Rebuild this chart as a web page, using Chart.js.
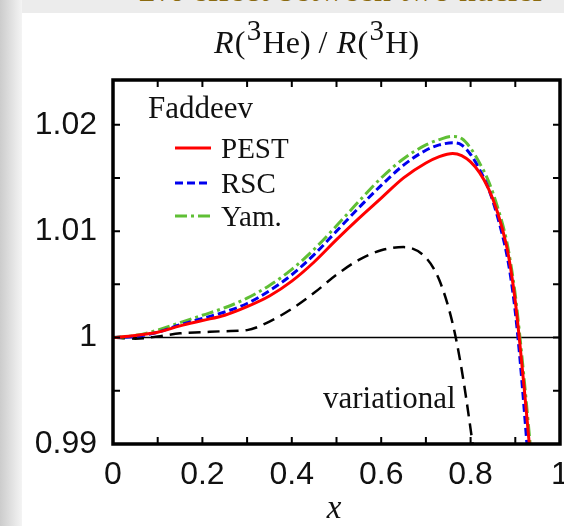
<!DOCTYPE html>
<html>
<head>
<meta charset="utf-8">
<script src="https://cdn.jsdelivr.net/npm/chart.js@4.4.1/dist/chart.umd.min.js"></script>
<style>
  html, body { margin: 0; padding: 0; }
  body { width: 564px; height: 526px; position: relative; overflow: hidden; background: #ececec; }
  #shade { position: absolute; left: 0; top: 0; width: 22px; height: 526px; background: linear-gradient(to right, #cccccc, #f4f4f4); }
  #panel { position: absolute; left: 22px; top: 13px; right: 0; bottom: 0; background: #fff; }
  #slideTitle { position: absolute; right: 22px; top: -27px; font: 34px "Liberation Serif"; line-height: 34px; color: #8a6a10; white-space: nowrap; }
  #wrap { position: absolute; left: 0; top: 0; width: 564px; height: 526px; }
</style>
</head>
<body>
<div id="shade"></div>
<div id="panel"></div>
<div id="slideTitle">2% effect between two nuclei</div>
<div id="wrap"><canvas id="myChart" width="564" height="526"></canvas></div>
<script>
// Faddeev calculations
const xFaddeev = [0, 0.05, 0.1, 0.15, 0.2, 0.25, 0.3, 0.35, 0.4, 0.45, 0.5, 0.55, 0.6, 0.65, 0.7, 0.73, 0.76, 0.78, 0.8, 0.82, 0.84, 0.86, 0.88, 0.89, 0.9, 0.91, 0.92, 0.93, 0.94];
const pestValues = [1.0000, 1.0002, 1.0005, 1.0011, 1.0016, 1.0021, 1.0029, 1.0039, 1.0053, 1.0071, 1.0092, 1.0112, 1.0131, 1.0150, 1.0164, 1.0170, 1.0173, 1.0171, 1.0165, 1.0155, 1.0140, 1.0118, 1.0087, 1.0064, 1.0034, 0.9995, 0.9952, 0.9906, 0.9860];
const rscValues = [1.0000, 1.0001, 1.0005, 1.0012, 1.0018, 1.0024, 1.0032, 1.0044, 1.0059, 1.0078, 1.0100, 1.0122, 1.0143, 1.0162, 1.0176, 1.0181, 1.0183, 1.0181, 1.0172, 1.0158, 1.0140, 1.0114, 1.0080, 1.0056, 1.0024, 0.9982, 0.9932, 0.9878, 0.9820];
const yamValues = [1.0000, 1.0002, 1.0007, 1.0014, 1.0021, 1.0028, 1.0037, 1.0049, 1.0064, 1.0083, 1.0105, 1.0128, 1.0150, 1.0168, 1.0181, 1.0186, 1.0189, 1.0187, 1.0178, 1.0164, 1.0147, 1.0123, 1.0092, 1.0069, 1.0040, 1.0002, 0.9960, 0.9915, 0.9868];

// variational calculation
const xVariational = [0, 0.05, 0.1, 0.15, 0.2, 0.25, 0.3, 0.35, 0.4, 0.45, 0.5, 0.55, 0.6, 0.65, 0.7, 0.73, 0.76, 0.78, 0.8, 0.82];
const variationalValues = [1.0000, 0.9999, 1.0001, 1.0004, 1.0005, 1.0006, 1.0007, 1.0015, 1.0027, 1.0042, 1.0059, 1.0073, 1.0082, 1.0085, 1.0075, 1.0054, 1.0013, 0.9970, 0.9914, 0.9850];

// reference line R = 1
const xRef = [0, 1];
const refValues = [1, 1];

const seriesNames = ["PEST", "RSC", "Yam."];
const xTickLabels = ["0", "0.2", "0.4", "0.6", "0.8", "1"];
const yTickLabels = ["0.99", "1", "1.01", "1.02"];

const serif = '"Liberation Serif", "Times New Roman", serif';
const sans = '"Liberation Sans", Arial, sans-serif';

function toPoints(xs, ys) {
  let pts = [];
  for (let i = 0; i < xs.length; i++) {
    pts[i] = { x: xs[i], y: ys[i] };
  }
  return pts;
}

function findLabel(labels, value) {
  for (const lab of labels) {
    if (Math.abs(parseFloat(lab) - value) < 1e-6) return lab;
  }
  return "";
}

const framePlugin = {
  id: "frame",
  afterDatasetsDraw(chart) {
    const ctx = chart.ctx;
    const a = chart.chartArea;
    const sx = chart.scales.x;
    const sy = chart.scales.y;
    ctx.save();
    ctx.strokeStyle = "#000";
    ctx.lineWidth = 2;
    ctx.beginPath();
    sx.ticks.forEach((t) => {
      const px = sx.getPixelForValue(t.value);
      ctx.moveTo(px, a.bottom);
      ctx.lineTo(px, a.bottom - 7);
      ctx.moveTo(px, a.top);
      ctx.lineTo(px, a.top + 7);
    });
    sy.ticks.forEach((t) => {
      const py = sy.getPixelForValue(t.value);
      ctx.moveTo(a.left, py);
      ctx.lineTo(a.left + 7, py);
      ctx.moveTo(a.right, py);
      ctx.lineTo(a.right - 7, py);
    });
    ctx.stroke();
    ctx.lineWidth = 3.5;
    ctx.strokeRect(a.left, a.top, a.right - a.left, a.bottom - a.top);

    // title R(3He) / R(3H)
    ctx.fillStyle = "#111";
    ctx.textBaseline = "alphabetic";
    ctx.textAlign = "left";
    let parts = [
      ["R", "italic 32px " + serif, 0],
      ["(", "32px " + serif, 0],
      ["3", "29px " + serif, -13],
      ["He) / ", "32px " + serif, 0],
      ["R", "italic 32px " + serif, 0],
      ["(", "32px " + serif, 0],
      ["3", "29px " + serif, -13],
      ["H)", "32px " + serif, 0],
    ];
    let tx = 214;
    for (const [txt, font, dy] of parts) {
      ctx.font = font;
      ctx.fillText(txt, tx, 53 + dy);
      tx += ctx.measureText(txt).width + 1.3;
    }

    // legend
    ctx.font = "31px " + serif;
    ctx.fillText("Faddeev", 148, 118);
    const rows = [148, 183, 216];
    ctx.font = "29px " + serif;
    for (let i = 0; i < 3; i++) {
      const ds = chart.data.datasets[i];
      ctx.strokeStyle = ds.borderColor;
      ctx.lineWidth = ds.borderWidth;
      ctx.setLineDash(ds.borderDash || []);
      ctx.beginPath();
      ctx.moveTo(175, rows[i]);
      ctx.lineTo(211, rows[i]);
      ctx.stroke();
      ctx.fillText(seriesNames[i], 221, rows[i] + 10);
    }
    ctx.setLineDash([]);

    ctx.font = "31px " + serif;
    ctx.fillText("variational", 323, 408);

    ctx.font = "italic 33px " + serif;
    ctx.textAlign = "center";
    ctx.fillText("x", 334, 518);
    ctx.restore();
  },
};

let chart1 = document.getElementById("myChart").getContext("2d");

const myChart1 = new Chart(chart1, {
  type: "line",
  data: {
    datasets: [
      {
        label: seriesNames[0],
        data: toPoints(xFaddeev, pestValues),
        borderColor: "#ff0000",
        borderWidth: 3,
        borderDash: [],
      },
      {
        label: seriesNames[1],
        data: toPoints(xFaddeev, rscValues),
        borderColor: "#0000ee",
        borderWidth: 3,
        borderDash: [8, 4],
      },
      {
        label: seriesNames[2],
        data: toPoints(xFaddeev, yamValues),
        borderColor: "#5fbf35",
        borderWidth: 3,
        borderDash: [12, 4, 3, 4],
      },
      {
        label: "variational",
        data: toPoints(xVariational, variationalValues),
        borderColor: "#000",
        borderWidth: 2.5,
        borderDash: [12, 7],
      },
      {
        label: "ref",
        data: toPoints(xRef, refValues),
        borderColor: "#000",
        borderWidth: 1.5,
        tension: 0,
        cubicInterpolationMode: "default",
      },
    ],
  },
  options: {
    responsive: false,
    animation: false,
    devicePixelRatio: 1,
    layout: { padding: { top: 80, right: 4, left: 0, bottom: 0 } },
    elements: {
      point: { radius: 0 },
      line: { cubicInterpolationMode: "monotone", fill: false },
    },
    plugins: { legend: { display: false }, tooltip: { enabled: false } },
    scales: {
      x: {
        type: "linear",
        min: 0,
        max: 1,
        grid: { display: false, drawTicks: false },
        border: { display: false },
        ticks: {
          stepSize: 0.1,
          padding: 12,
          color: "#111",
          font: { family: sans, size: 32 },
          maxRotation: 0,
          autoSkip: false,
          callback: (v) => findLabel(xTickLabels, v),
        },
        afterFit: (s) => {
          s.height = 82;
          s.paddingLeft = 0;
          s.paddingRight = 0;
        },
      },
      y: {
        type: "linear",
        min: 0.99,
        max: 1.0242,
        grid: { display: false, drawTicks: false },
        border: { display: false },
        ticks: {
          stepSize: 0.005,
          includeBounds: false,
          padding: 16,
          color: "#111",
          font: { family: sans, size: 32 },
          autoSkip: false,
          callback: (v) => findLabel(yTickLabels, v),
        },
        afterFit: (s) => {
          s.width = 113;
          s.paddingTop = 0;
          s.paddingBottom = 0;
        },
      },
    },
  },
  plugins: [framePlugin],
});
</script>
</body>
</html>
